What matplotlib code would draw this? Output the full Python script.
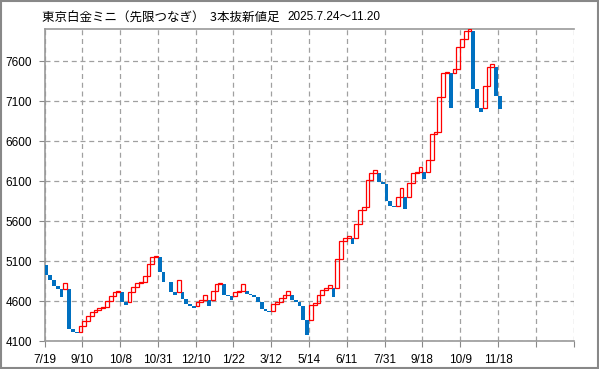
import matplotlib.pyplot as plt
import numpy as np

plt.rcParams['font.family'] = ['Liberation Sans', 'Noto Sans CJK JP', 'DejaVu Sans']

# three-line break bars: first open, then the close of every line
first_open = 5054
closes = [4929, 4871, 4796, 4754, 4650, 4825, 4254, 4221, 4200, 4287,
          4358, 4412, 4471, 4496, 4512, 4533, 4600, 4662, 4712, 4725,
          4587, 4558, 4712, 4783, 4825, 4846, 4912, 5067, 5150, 5162,
          4962, 4846, 4837, 4712, 4679, 4866, 4629, 4566, 4537, 4516,
          4587, 4621, 4679, 4546, 4725, 4816, 4825, 4683, 4671, 4621,
          4712, 4733, 4816, 4691, 4679, 4650, 4596, 4504, 4483, 4471,
          4566, 4587, 4637, 4679, 4725, 4616, 4596, 4546, 4371, 4180,
          4555, 4575, 4678, 4740, 4772, 4809, 4657, 5129, 5354, 5395,
          5415, 5321, 5567, 5743, 5784, 6112, 6206, 6247, 6095, 6062,
          5858, 5797, 5785, 5900, 6012, 5753, 6074, 6208, 6220, 6274,
          6128, 6366, 6687, 6712, 7149, 7458, 7470, 7020, 7499, 7774,
          7874, 7978, 8000, 7249, 7012, 6962, 7291, 7528, 7562, 7170,
          6999]

x_labels = ['7/19', '9/10', '10/8', '10/31', '12/10', '1/22', '3/12',
            '5/14', '6/11', '7/31', '9/18', '10/9', '11/18', '', '']
y_ticks = [4100, 4600, 5100, 5600, 6100, 6600, 7100, 7600]

# derive open of each line from the previous one
opens = []
prev_o, prev_c = None, None
for i, c in enumerate(closes):
    if i == 0:
        o = first_open
    else:
        up_prev = prev_c > prev_o
        if up_prev:
            o = prev_c if c > prev_c else prev_o
        else:
            o = prev_c if c < prev_c else prev_o
    opens.append(o)
    prev_o, prev_c = o, c

opens = np.array(opens)
closes = np.array(closes)
x = np.arange(len(closes))
up = closes > opens

fig = plt.figure(figsize=(5.99, 3.69), dpi=100)
ax = fig.add_axes([44.5/599, 1-341.3/369, (573.5-44.5)/599, (341.3-29.3)/369])

lo = np.minimum(opens, closes)
hi = np.maximum(opens, closes)

ax.bar(x[~up], (hi-lo)[~up], bottom=lo[~up], width=1.0, align='edge',
       color='#0070C0', linewidth=0, zorder=3)
ax.bar(x[up], (hi-lo)[up], bottom=lo[up], width=1.0, align='edge',
       facecolor='none', edgecolor='#FF0000', linewidth=0.9, zorder=4)

ax.set_xlim(0, 140)
ax.set_ylim(4100, 8000)
ax.set_xticks(np.arange(0, 141, 10))
ax.set_xticklabels(x_labels)
ax.set_yticks(y_ticks)
ax.tick_params(axis='both', labelsize=8.5, length=4, color='#888888', pad=5)
ax.grid(True, color='#A0A0A0', linestyle=(0, (4, 3)), linewidth=0.9)
ax.set_axisbelow(True)
for side in ['left', 'bottom', 'top']:
    ax.spines[side].set_color('#999999')
    ax.spines[side].set_linewidth(1.2)
ax.spines['right'].set_visible(False)

fig.text(42/599, 1-17/369, '東京白金ミニ（先限つなぎ）  3本抜新値足', fontsize=9,
         family=['Noto Sans CJK JP'], va='center', ha='left')
fig.text(287/599, 1-17/369, '2025.7.24～11.20', fontsize=8.5,
         family=['Liberation Sans', 'Noto Sans CJK JP'], va='center', ha='left')

fig.patches.append(plt.Rectangle((0.002, 0.003), 0.996, 0.994, transform=fig.transFigure,
                                 fill=False, edgecolor='#888888', linewidth=1.5))

plt.savefig('out.png', dpi=100)
